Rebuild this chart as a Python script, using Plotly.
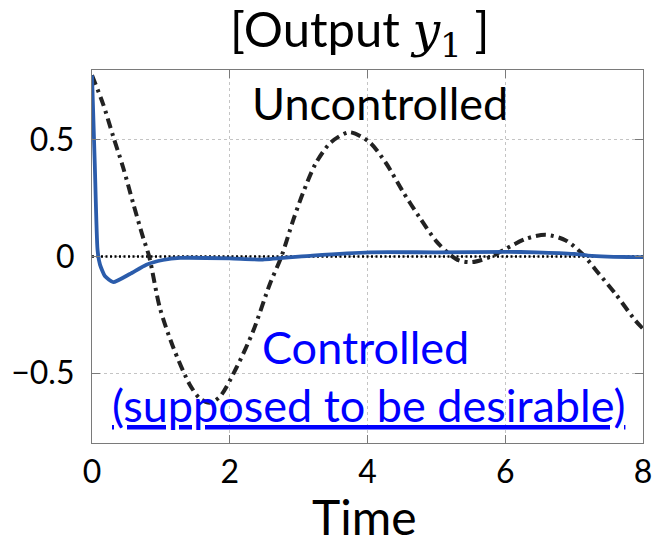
import plotly.graph_objects as go

# ---- data ----
t_unc = [0, 0.16, 0.31, 0.45, 0.60, 0.74, 0.83, 0.985, 1.18, 1.42, 1.57, 1.71, 1.86, 2.10,
         2.34, 2.58, 2.75, 2.92, 3.06, 3.25, 3.47, 3.74, 4.03, 4.27, 4.51, 4.75, 5.00, 5.19,
         5.33, 5.52, 5.77, 6.01, 6.30, 6.59, 6.88, 7.12, 7.36, 7.60, 7.89, 8.0]
y_unc = [0.777, 0.655, 0.513, 0.384, 0.226, 0.083, 0.0, -0.22, -0.39, -0.55, -0.61, -0.627,
         -0.60, -0.475, -0.32, -0.12, 0.0, 0.155, 0.27, 0.40, 0.49, 0.533, 0.49, 0.40, 0.28,
         0.17, 0.065, 0.01, -0.017, -0.024, -0.003, 0.033, 0.076, 0.093, 0.069, 0.011, -0.074,
         -0.16, -0.275, -0.31]

t_ctl = [0, 0.04, 0.08, 0.116, 0.19, 0.31, 0.55, 0.79, 1.03, 1.28, 2.0, 2.48, 3.2, 4.03,
         5.0, 6.0, 6.45, 7.0, 7.2, 7.9, 8.0]
y_ctl = [0.777, 0.40, 0.03, -0.035, -0.085, -0.11, -0.075, -0.035, -0.015, -0.006, -0.008,
         -0.013, 0.004, 0.018, 0.018, 0.02, 0.018, 0.011, 0.004, -0.003, -0.003]

ref_t = [t_unc[0], t_unc[-1]]
ref_y = [0, 0]

x_ticks = [0, 2, 4, 6, 8]
y_ticks = [-0.5, 0, 0.5]
y_ticktext = ["\u22120.5", "0", "0.5"]

TXT = "Lato"

fig = go.Figure()
fig.add_trace(go.Scatter(x=ref_t, y=ref_y, mode="lines", hoverinfo="skip",
                         line=dict(color="black", width=2.6, dash="2px,2.5px")))
fig.add_trace(go.Scatter(x=t_unc, y=y_unc, mode="lines", name="Uncontrolled",
                         line=dict(color="#222222", width=4, dash="10px,5px,3px,5px",
                                   shape="spline", smoothing=0.8)))
fig.add_trace(go.Scatter(x=t_ctl, y=y_ctl, mode="lines", name="Controlled",
                         line=dict(color="#2b5cab", width=3.8, shape="spline", smoothing=0.5)))

axis_common = dict(showline=True, linecolor="#7a7a7a", linewidth=1.3, mirror="ticks",
                   ticks="inside", ticklen=8, tickcolor="#7a7a7a", tickwidth=1.2,
                   showgrid=True, gridcolor="#c4c4c4", gridwidth=1, griddash="dot",
                   zeroline=False, automargin=False, ticklabeloverflow="allow",
                   tickfont=dict(family=TXT, size=32, color="black"))

fig.update_xaxes(range=[0, 8], tickvals=x_ticks, ticklabelstandoff=0, **axis_common)
fig.update_yaxes(range=[-0.8, 0.8], tickvals=y_ticks, ticktext=y_ticktext,
                 ticklabelstandoff=10, **axis_common)

fig.update_layout(
    width=652, height=539,
    margin=dict(l=92, r=9, t=70, b=96),
    plot_bgcolor="white", paper_bgcolor="white",
    showlegend=False,
    annotations=[
        dict(text="[Output <span style='font-family:DejaVu Serif'><i>y</i><sub>1</sub></span> ]",
             xref="paper", yref="paper", x=0.486, y=1.102, showarrow=False,
             xanchor="center", yanchor="middle",
             font=dict(family=TXT, size=49, color="black")),
        dict(text="Uncontrolled", xref="paper", yref="paper", x=0.522, y=0.911,
             showarrow=False, xanchor="center", yanchor="middle",
             font=dict(family=TXT, size=45, color="black")),
        dict(text="Controlled", xref="paper", yref="paper", x=0.497, y=0.257,
             showarrow=False, xanchor="center", yanchor="middle",
             font=dict(family=TXT, size=45, color="#0000ff")),
        dict(text="<u>(supposed to be desirable)</u>", xref="paper", yref="paper",
             x=0.501, y=0.101, showarrow=False, xanchor="center", yanchor="middle",
             font=dict(family=TXT, size=45, color="#0000ff")),
        dict(text="Time", xref="paper", yref="paper", x=0.494, y=-0.198,
             showarrow=False, xanchor="center", yanchor="middle",
             font=dict(family=TXT, size=48, color="black")),
    ],
)

fig.write_html("out.html", config={"displayModeBar": False},
               post_script="document.body.style.margin='0px';"
                           "document.body.style.overflow='hidden';")
